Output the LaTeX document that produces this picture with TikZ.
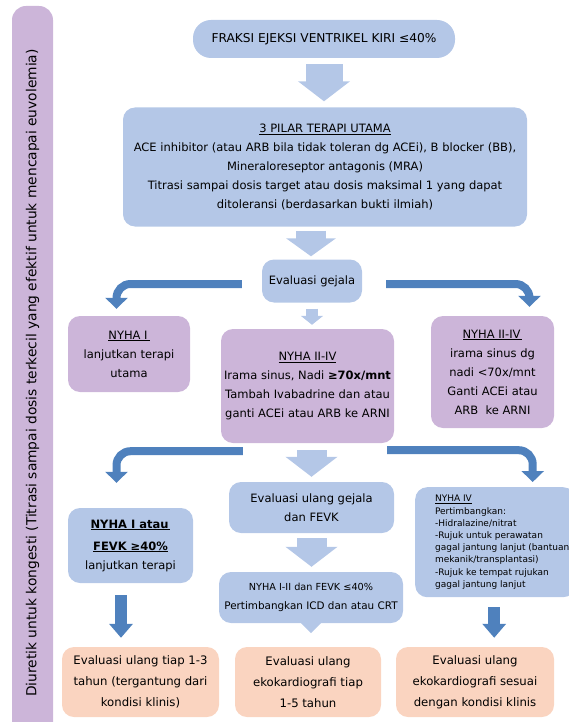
\documentclass[tikz,border=0pt]{standalone}
\usepackage{fontspec}
\setmainfont{DejaVu Sans}
\usetikzlibrary{arrows.meta,positioning}
\definecolor{lblue}{HTML}{B4C7E7}
\definecolor{lpurp}{HTML}{CCB5D9}
\definecolor{dblue}{HTML}{4F81BD}
\definecolor{peach}{HTML}{FAD4C0}

\begin{document}
\begin{tikzpicture}[
  x=1pt, y=-1pt,
  box/.style={fill=lblue, rounded corners=12pt, align=center, inner sep=2pt, font=\fontsize{11.5}{19}\selectfont},
  pbox/.style={box, fill=lpurp},
  obox/.style={box, fill=peach, font=\fontsize{11.7}{21}\selectfont},
  blk/.style={draw=lblue, -{Triangle[length=20pt,width=51pt]}},
  arr/.style={draw=dblue, line width=8pt, rounded corners=14pt, -{Triangle[length=11pt,width=22pt]}},
  darr/.style={draw=dblue, line width=12pt, -{Triangle[length=14pt,width=23pt]}}
]
\useasboundingbox (0,0) rectangle (568,722);

% side bar
\node[fill=lpurp, rounded corners=14pt, rotate=90, minimum width=734pt, minimum height=41pt,
  font=\fontsize{13.8}{15}\selectfont] (diu) at (32.5,373)
  {Diuretik untuk kongesti (Titrasi sampai dosis terkecil yang efektif untuk mencapai euvolemia)};

% top part
\node[box, rounded corners=18pt, minimum width=262pt, minimum height=38pt, font=\fontsize{12.2}{14}\selectfont] (fe) at (324,39)
  {FRAKSI EJEKSI VENTRIKEL KIRI ≤40\%};
\node[box, minimum width=404pt, minimum height=119pt] (pilar) at (325,167)
  {\underline{3 PILAR TERAPI UTAMA}\\
   ACE inhibitor (atau ARB bila tidak toleran dg ACEi), B blocker (BB),\\
   Mineraloreseptor antagonis (MRA)\\
   Titrasi sampai dosis target atau dosis maksimal 1 yang dapat\\
   ditoleransi (berdasarkan bukti ilmiah)};
\node[box, minimum width=100pt, minimum height=43pt] (gejala) at (312,281) {Evaluasi gejala};

% NYHA row
\node[pbox, minimum width=122pt, minimum height=76pt] (nyha1) at (129,354)
  {\underline{NYHA I\,}\\lanjutkan terapi\\utama};
\node[pbox, minimum width=173pt, minimum height=114pt] (nyha2) at (307.5,386)
  {\underline{NYHA II-IV}\\Irama sinus, Nadi \textbf{≥70x/mnt}\\Tambah Ivabadrine dan atau\\ganti ACEi atau ARB ke ARNI};
\node[pbox, minimum width=123pt, minimum height=112pt] (nyha3) at (492.5,372)
  {\underline{NYHA II-IV\,}\\irama sinus dg\\nadi <70x/mnt\\Ganti ACEi atau\\ARB\ \ ke ARNI};

% second row
\node[box, minimum width=165pt, minimum height=51pt] (ulang) at (311.5,507.5)
  {Evaluasi ulang gejala\\dan FEVK};
\node[box, minimum width=125pt, minimum height=75pt] (nyha1b) at (130.5,545.5)
  {\textbf{\underline{NYHA I atau\,}}\\[3pt]\textbf{\underline{FEVK ≥40\%}}\\lanjutkan terapi};
\node[box, align=left, anchor=north west, minimum width=160pt, minimum height=110pt, inner sep=0pt,
  font=\fontsize{9}{12.2}\selectfont] (nyha4) at (415,487)
  {\hspace*{14pt}\begin{tabular}{@{}l@{}}
   \underline{NYHA IV}\\Pertimbangkan:\\-Hidralazine/nitrat\\-Rujuk untuk perawatan\\
   gagal jantung lanjut (bantuan\\mekanik/transplantasi)\\-Rujuk ke tempat rujukan\\gagal jantung lanjut
   \end{tabular}};
\node[box, minimum width=184pt, minimum height=51pt, font=\fontsize{10.4}{19}\selectfont] (icd) at (311,597.5)
  {{\fontsize{9.7}{19}\selectfont NYHA I-II dan FEVK ≤40\%}\\Pertimbangkan ICD dan atau CRT};

% bottom row
\node[obox, minimum width=157pt, minimum height=70pt] (bl) at (140.5,682)
  {Evaluasi ulang tiap 1-3\\tahun (tergantung dari\\kondisi klinis)};
\node[obox, minimum width=146pt, minimum height=70pt] (bm) at (308,682)
  {Evaluasi ulang\\ekokardiografi tiap\\1-5 tahun};
\node[obox, minimum width=158pt, minimum height=70pt] (br) at (475,682)
  {Evaluasi ulang\\ekokardiografi sesuai\\dengan kondisi klinis};

% light block arrows
\draw[blk, line width=37pt, shorten <=6pt, shorten >=6pt] (fe.south) -- (fe.south |- pilar.north);
\draw[blk, line width=30pt, -{Triangle[length=18pt,width=49pt]}, shorten <=4pt, shorten >=3pt]
  ([xshift=-14pt]pilar.south) -- ([xshift=-14pt]pilar.south |- gejala.north);
\draw[blk, line width=12pt, -{Triangle[length=9pt,width=22pt]}, shorten <=6pt, shorten >=4pt]
  (gejala.south) -- (gejala.south |- nyha2.north);
\draw[blk, line width=30pt, shorten <=7pt, shorten >=5pt] (nyha2.south -| ulang.north) -- (ulang.north);
\draw[blk, line width=30pt, shorten <=5pt, shorten >=5pt] (ulang.south) -- (ulang.south |- icd.north);
\fill[lblue] ([xshift=-10pt]icd.south) -- ([xshift=10pt]icd.south) -- ([yshift=-10pt]icd.south) -- cycle;

% curved arrows
\draw[arr] ([xshift=-20pt,yshift=-3pt]gejala.west) -| ([xshift=-12.5pt,yshift=7pt]nyha1.north);
\draw[arr] ([xshift=24pt,yshift=-3pt]gejala.east) -| ([xshift=37pt,yshift=9pt]nyha3.north);
\draw[arr] ([xshift=22pt,yshift=-8pt]nyha2.south west) -| ([xshift=-14pt,yshift=25pt]nyha1b.north);
\draw[arr] ([xshift=-7pt,yshift=-7pt]nyha2.south east) -| ([xshift=37.5pt,yshift=5pt]nyha4.north);

% dark down arrows
\draw[darr] ([xshift=-9.5pt,yshift=-12pt]nyha1b.south) -- ([xshift=-9.5pt,yshift=9pt]nyha1b.south |- bl.north);
\draw[darr] ([xshift=-1pt,yshift=-10pt]nyha4.south) -- ([xshift=-1pt,yshift=9pt]nyha4.south |- br.north);
\end{tikzpicture}
\end{document}
